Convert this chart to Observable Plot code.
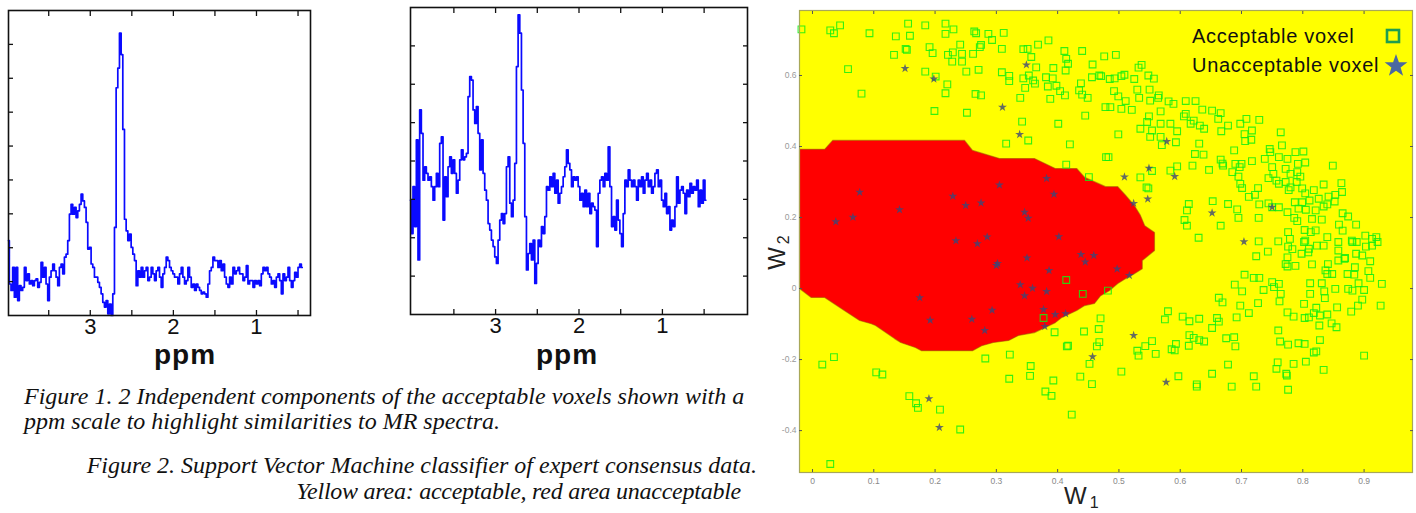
<!DOCTYPE html>
<html><head><meta charset="utf-8">
<script src="https://cdn.jsdelivr.net/npm/d3@7"></script>
<script src="https://cdn.jsdelivr.net/npm/@observablehq/plot@0.6"></script>
<style>
body{margin:0;width:1416px;height:513px;background:#fff;position:relative;overflow:hidden;font-family:"Liberation Sans",Arial,sans-serif}
.abs{position:absolute;white-space:nowrap}
.cap{font-family:"Liberation Serif","Times New Roman",serif;font-style:italic;font-size:24px;line-height:24px;color:#111}
.ppm{font-size:28px;line-height:12px;letter-spacing:1px;font-weight:bold;color:#111;transform:translateX(-50%)}
svg{overflow:visible}
</style></head><body>
<div id="c1" class="abs" style="left:0;top:0"></div>
<div id="c2" class="abs" style="left:400px;top:0"></div>
<div id="c3" class="abs" style="left:760px;top:0"></div>
<script>
// ---------- Spectrum data (ppm grid: start + step; intensities) ----------
const spec1Start = 3.984, spec1Step = 0.02008;
const spec1Values = [2.21,0.93,0.74,1.42,0.54,1.42,0.44,0.88,0.74,0.83,1.42,1.03,1.23,0.93,1.03,0.88,1.03,1.08,0.83,0.98,1.57,1.13,1.42,0.93,0.44,1.13,1.32,1.52,1.32,1.13,0.88,1.42,1.52,1.23,1.72,1.81,2.21,2.99,3.28,2.99,3.19,2.89,3.09,3.28,3.58,3.38,3.19,2.75,1.96,2.01,1.52,1.42,1.13,1.13,0.98,0.83,0.64,0.39,0.25,0.44,0.05,0.34,0.00,0.64,2.60,6.72,7.30,8.33,7.70,5.49,2.84,2.50,2.21,2.40,2.01,1.81,1.62,0.88,1.32,1.13,1.42,1.13,1.32,1.42,1.03,1.13,1.42,1.23,1.03,1.32,1.42,1.13,0.83,1.23,1.42,1.72,1.62,1.42,1.32,1.23,1.13,1.13,0.93,1.23,1.42,1.13,0.93,1.03,1.42,1.13,0.83,0.93,0.74,0.93,0.83,0.74,0.64,0.69,0.64,0.54,0.93,1.32,1.42,1.72,1.62,1.62,1.42,1.62,1.32,1.52,1.13,0.93,0.83,1.13,0.93,1.42,1.23,1.32,1.42,1.23,1.23,1.03,1.13,1.47,0.93,1.03,1.03,0.83,1.03,0.93,1.03,0.88,1.23,1.42,1.32,1.42,1.23,1.13,0.93,1.03,0.83,1.13,1.23,1.03,0.64,1.23,1.03,1.13,1.42,1.03,0.83,1.03,1.27,1.13,1.42,1.52,1.42];

const spec2Start = 4.02, spec2Step = 0.02;
const spec2Values = [2.98,2.11,3.33,2.29,4.55,1.42,5.33,4.72,3.50,3.85,3.68,3.50,3.59,3.33,2.98,3.33,3.68,3.33,4.46,4.63,2.46,3.59,3.07,3.85,4.11,3.68,4.03,3.68,3.16,3.50,4.03,4.29,4.03,4.11,4.20,5.68,6.20,6.11,5.33,4.98,5.42,4.72,3.77,4.55,3.68,3.24,2.98,2.37,2.20,1.94,1.77,1.50,1.33,1.94,2.46,2.63,2.37,2.63,3.85,4.11,2.90,2.55,2.98,3.94,6.46,7.81,7.33,5.85,4.46,2.55,1.16,1.59,1.85,1.42,1.94,0.81,1.33,1.94,1.77,2.29,2.11,2.55,3.33,3.24,3.59,3.33,3.68,3.16,3.50,2.90,3.16,3.33,3.59,3.85,4.29,3.94,3.77,3.33,3.59,3.50,3.59,3.33,2.98,3.16,2.81,3.24,2.81,3.16,2.63,2.90,2.81,2.72,1.77,3.16,3.50,3.59,3.33,3.68,3.50,4.37,3.33,2.29,2.55,2.20,2.98,2.46,2.11,1.77,2.63,3.50,3.33,3.77,3.50,3.33,3.50,3.33,2.98,3.50,3.33,3.59,3.16,3.50,3.68,3.33,3.50,3.16,3.33,3.68,3.77,3.33,3.50,2.98,2.81,3.16,2.63,2.81,2.20,2.46,2.29,2.81,3.59,2.90,3.24,3.33,3.16,2.63,3.24,3.07,3.42,3.16,3.33,3.24,3.50,2.81,3.24,2.90,3.50,2.98];

const ppmTicks = [3.5, 3, 2.5, 2, 1.5, 1, 0.5];
const ppmLabels = [3, 2, 1];
const yTicks1 = [1, 2, 3, 4, 5, 6, 7, 8];
const yTicks2 = [1, 2, 3, 4, 5, 6, 7];

// ---------- SVM classifier data ----------
const w1Ticks = [0, 0.1, 0.2, 0.3, 0.4, 0.5, 0.6, 0.7, 0.8, 0.9];
const w2Ticks = [-0.4, -0.2, 0, 0.2, 0.4, 0.6];

// boundary of the "unacceptable" (red) decision region, [W1, W2]
const redRegion = [[-0.0212,0.392],[0.020,0.392],[0.033,0.417],[0.248,0.417],[0.261,0.389],[0.305,0.366],[0.362,0.366],[0.396,0.338],[0.431,0.338],[0.444,0.313],[0.478,0.287],[0.498,0.287],[0.511,0.262],[0.525,0.234],[0.535,0.206],[0.542,0.177],[0.558,0.158],[0.558,0.107],[0.538,0.079],[0.538,0.056],[0.525,0.042],[0.511,0.028],[0.498,0.014],[0.484,-0.006],[0.470,-0.020],[0.460,-0.042],[0.444,-0.048],[0.431,-0.062],[0.406,-0.082],[0.396,-0.096],[0.362,-0.124],[0.336,-0.132],[0.320,-0.146],[0.295,-0.152],[0.276,-0.161],[0.261,-0.175],[0.178,-0.175],[0.168,-0.166],[0.144,-0.152],[0.134,-0.141],[0.103,-0.104],[0.096,-0.099],[0.077,-0.090],[0.052,-0.062],[0.020,-0.025],[-0.002,-0.025],[-0.0212,0.0]];

const acceptable = [[-0.018,0.730],[0.029,0.727],[0.035,0.719],[0.045,0.741],[0.093,0.719],[0.058,0.618],[0.080,0.549],[0.136,0.710],[0.156,0.746],[0.159,0.712],[0.184,0.741],[0.133,0.658],[0.152,0.675],[0.154,0.672],[0.184,0.611],[0.196,0.663],[0.191,0.680],[0.201,0.597],[0.217,0.746],[0.217,0.717],[0.230,0.730],[0.220,0.575],[0.217,0.550],[0.199,0.500],[0.221,0.658],[0.229,0.665],[0.228,0.639],[0.241,0.687],[0.244,0.661],[0.244,0.639],[0.251,0.611],[0.252,0.495],[0.264,0.724],[0.267,0.719],[0.262,0.661],[0.273,0.680],[0.275,0.686],[0.271,0.616],[0.266,0.548],[0.275,0.544],[0.287,0.717],[0.293,0.700],[0.312,0.720],[0.309,0.675],[0.309,0.609],[0.321,0.599],[0.321,0.584],[0.339,0.537],[0.342,0.470],[0.316,0.408],[0.352,0.417],[0.344,0.674],[0.351,0.675],[0.357,0.652],[0.365,0.623],[0.353,0.600],[0.344,0.592],[0.360,0.586],[0.363,0.577],[0.347,0.565],[0.368,0.687],[0.385,0.699],[0.381,0.595],[0.384,0.569],[0.392,0.592],[0.393,0.621],[0.388,0.534],[0.398,0.571],[0.404,0.556],[0.412,0.544],[0.411,0.669],[0.414,0.647],[0.417,0.633],[0.413,0.614],[0.401,0.464],[0.420,0.406],[0.414,0.349],[0.440,0.669],[0.438,0.578],[0.435,0.558],[0.440,0.546],[0.449,0.537],[0.445,0.487],[0.457,0.631],[0.456,0.595],[0.468,0.600],[0.476,0.654],[0.478,0.511],[0.479,0.370],[0.451,0.314],[0.471,0.598],
[0.414,0.024],[0.441,-0.015],[0.377,-0.083],[0.482,-0.006],[0.016,-0.214],[0.035,-0.193],[0.104,-0.236],[0.114,-0.242],[0.158,-0.303],[0.169,-0.323],[0.172,-0.336],[0.208,-0.341],[0.241,-0.397],[0.029,-0.494],[0.282,-0.197],[0.322,-0.186],[0.321,-0.254],[0.356,-0.218],[0.355,-0.246],[0.380,-0.290],[0.390,-0.302],[0.393,-0.259],[0.395,-0.123],[0.415,-0.163],[0.417,-0.161],[0.423,-0.355],[0.437,-0.248],[0.443,-0.121],[0.452,-0.212],[0.456,-0.269],[0.464,-0.163],[0.468,-0.151],[0.467,-0.114],[0.470,-0.084],
[0.495,0.658],[0.485,0.590],[0.493,0.592],[0.504,0.598],[0.509,0.602],[0.525,0.590],[0.532,0.622],[0.537,0.630],[0.548,0.600],[0.557,0.591],[0.550,0.560],[0.530,0.560],[0.492,0.556],[0.499,0.541],[0.511,0.528],[0.486,0.511],[0.504,0.506],[0.521,0.503],[0.533,0.537],[0.551,0.529],[0.564,0.537],[0.565,0.544],[0.581,0.527],[0.589,0.520],[0.609,0.528],[0.625,0.528],[0.636,0.504],[0.568,0.499],[0.549,0.485],[0.546,0.469],[0.535,0.450],[0.554,0.445],[0.568,0.464],[0.584,0.464],[0.595,0.443],[0.609,0.492],[0.606,0.485],[0.617,0.464],[0.622,0.473],[0.632,0.459],[0.639,0.450],[0.652,0.501],[0.666,0.494],[0.662,0.478],[0.667,0.443],[0.678,0.459],[0.698,0.464],[0.708,0.478],[0.729,0.475],[0.705,0.435],[0.717,0.445],[0.716,0.419],[0.706,0.415],[0.499,0.434],[0.551,0.427],[0.568,0.427],[0.570,0.404],[0.593,0.412],[0.631,0.408],[0.483,0.370],[0.624,0.379],[0.638,0.377],[0.666,0.363],[0.670,0.346],[0.688,0.389],[0.690,0.351],[0.700,0.351],[0.717,0.359],[0.685,0.328],[0.697,0.342],[0.620,0.346],[0.595,0.344],[0.584,0.332],[0.554,0.331],[0.535,0.313],[0.548,0.282],[0.647,0.334],[0.669,0.352],[0.695,0.315],[0.701,0.283],[0.698,0.295],[0.727,0.283],[0.722,0.264],[0.738,0.365],[0.746,0.393],[0.747,0.384],[0.764,0.440],[0.766,0.403],[0.761,0.370],[0.775,0.365],[0.788,0.384],[0.801,0.386],[0.792,0.351],[0.804,0.355],[0.772,0.337],[0.780,0.323],[0.791,0.328],[0.750,0.342],[0.744,0.311],[0.752,0.323],[0.757,0.304],[0.761,0.295],[0.772,0.300],[0.780,0.285],[0.790,0.300],[0.796,0.315],[0.777,0.277],[0.799,0.282],[0.804,0.268],[0.818,0.277],[0.834,0.293],[0.849,0.346],[0.863,0.297],[0.864,0.272],[0.853,0.264],[0.842,0.259],[0.826,0.253],[0.811,0.248],[0.799,0.243],[0.787,0.243],[0.793,0.225],[0.805,0.222],[0.821,0.220],[0.834,0.231],[0.840,0.237],[0.852,0.245],[0.865,0.212],[0.874,0.203],[0.831,0.194],[0.815,0.196],[0.791,0.190],[0.786,0.199],[0.775,0.215],[0.761,0.229],[0.750,0.229],[0.744,0.240],[0.729,0.237],[0.712,0.258],[0.728,0.199],[0.695,0.199],[0.678,0.238],[0.653,0.246],[0.614,0.238],[0.611,0.220],[0.607,0.193],[0.611,0.177],[0.630,0.143],[0.666,0.177],[0.693,0.223],[0.728,0.133],[0.776,0.159],[0.779,0.140],[0.803,0.165],[0.813,0.159],[0.821,0.164],[0.804,0.135],[0.840,0.145],[0.859,0.180],[0.887,0.180],[0.902,0.149],[0.913,0.140],[0.920,0.145],[0.880,0.135],[0.865,0.163],[0.545,0.285],
[0.743,0.104],[0.724,0.091],[0.705,0.039],[0.720,0.030],[0.729,0.030],[0.689,0.011],[0.701,-0.008],[0.736,-0.004],[0.750,0.018],[0.761,0.013],[0.753,0.004],[0.764,-0.015],[0.762,-0.036],[0.727,-0.041],[0.698,-0.048],[0.712,-0.069],[0.692,-0.081],[0.663,-0.026],[0.669,-0.039],[0.660,-0.083],[0.663,-0.093],[0.652,-0.111],[0.631,-0.085],[0.615,-0.092],[0.604,-0.079],[0.580,-0.064],[0.575,-0.087],[0.615,-0.131],[0.622,-0.139],[0.631,-0.145],[0.639,-0.149],[0.593,-0.156],[0.591,-0.174],[0.586,-0.171],[0.614,-0.161],[0.554,-0.148],[0.543,-0.162],[0.530,-0.175],[0.532,-0.189],[0.560,-0.184],[0.504,-0.234],[0.597,-0.247],[0.627,-0.270],[0.627,-0.276],[0.652,-0.240],[0.675,-0.140],[0.688,-0.137],[0.690,-0.163],[0.678,-0.214],[0.684,-0.276],[0.720,-0.247],[0.724,-0.276],[0.760,-0.118],[0.763,-0.149],[0.776,-0.158],[0.793,-0.154],[0.803,-0.156],[0.822,-0.177],[0.818,-0.180],[0.828,-0.145],[0.759,-0.208],[0.757,-0.226],[0.773,-0.240],[0.774,-0.245],[0.785,-0.212],[0.805,-0.206],[0.834,-0.229],[0.776,-0.285],[0.900,-0.189],[0.776,0.118],[0.783,0.111],[0.775,0.088],[0.775,0.062],[0.772,0.069],[0.788,0.064],[0.798,0.098],[0.809,0.102],[0.815,0.068],[0.812,0.015],[0.812,-0.015],[0.831,0.015],[0.835,-0.008],[0.836,-0.027],[0.853,-0.001],[0.837,0.051],[0.840,0.041],[0.848,0.041],[0.841,0.069],[0.858,0.079],[0.868,0.084],[0.873,0.041],[0.885,0.060],[0.884,0.039],[0.891,0.015],[0.900,-0.004],[0.881,-0.006],[0.874,-0.001],[0.897,-0.031],[0.890,-0.048],[0.879,-0.065],[0.910,0.030],[0.907,0.049],[0.910,0.077],[0.929,0.013],[0.927,-0.048],[0.856,-0.053],[0.855,-0.109],[0.828,-0.076],[0.840,-0.073],[0.847,-0.098],[0.822,-0.054],[0.818,-0.069],[0.810,-0.081],[0.803,-0.083],[0.785,-0.079],[0.775,-0.067],[0.802,-0.043],[0.827,-0.104],[0.760,0.133],[0.802,0.131],[0.810,0.112],[0.823,0.121],[0.834,0.121],[0.858,0.107],[0.869,0.086],[0.887,0.098],[0.897,0.093],[0.903,0.118],[0.913,0.121],[0.922,0.131],[0.881,0.131],[0.888,0.131],[0.858,0.131]];

const unacceptable = [[0.151,0.620],[0.198,0.590],[0.349,0.630],[0.310,0.511],[0.338,0.434],[0.077,0.271],[0.038,0.188],[0.066,0.201],[0.142,0.222],[0.229,0.260],[0.250,0.234],[0.275,0.241],[0.305,0.292],[0.346,0.215],[0.352,0.198],[0.382,0.310],[0.394,0.266],[0.402,0.146],[0.234,0.135],[0.269,0.126],[0.285,0.145],[0.302,0.071],[0.300,0.065],[0.350,0.086],[0.386,0.051],[0.438,0.096],[0.459,0.093],[0.445,0.075],[0.339,0.011],[0.359,0.001],[0.346,-0.020],[0.382,-0.008],[0.175,-0.026],[0.192,-0.089],[0.260,-0.086],[0.293,-0.061],[0.281,-0.118],[0.377,-0.059],[0.396,-0.073],[0.413,-0.071],[0.379,-0.107],[0.190,-0.310],[0.207,-0.391],[0.457,-0.192],[0.578,0.414],[0.549,0.339],[0.509,0.314],[0.591,0.316],[0.547,0.252],[0.524,0.240],[0.652,0.213],[0.750,0.229],[0.704,0.132],[0.497,0.055],[0.517,0.037],[0.524,-0.132],[0.577,-0.264]];

// ---------- build ----------
const rows1 = spec1Values.map((v, i) => ({ppm: spec1Start - i * spec1Step, v}));
const rows2 = spec2Values.map((v, i) => ({ppm: spec2Start - i * spec2Step, v}));
const blank = () => "";
const plain = d => String(d);
const specStyle = {background: "transparent", fontFamily: "Liberation Sans, Arial, sans-serif", color: "#111", overflow: "visible"};

function spectrum(rows, xDomain, yMax, yTicks, size, margins, rightTicks) {
  const marks = [
    Plot.line(rows, {x: "ppm", y: "v", stroke: "#0a0aff", strokeWidth: 1.7, curve: "step"}),
    Plot.frame({stroke: "#111", strokeWidth: 1.6}),
    Plot.axisX({anchor: "bottom", ticks: ppmTicks, tickSize: -5, tickFormat: blank, label: null, strokeWidth: 1.3}),
    Plot.axisX({anchor: "top", ticks: ppmTicks, tickSize: -5, tickFormat: blank, label: null, strokeWidth: 1.3}),
    Plot.axisX({anchor: "bottom", ticks: ppmLabels, tickSize: 0, tickPadding: 3, fontSize: 22, tickFormat: plain, label: null}),
    Plot.axisY({anchor: "left", ticks: yTicks, tickSize: -5, tickFormat: blank, label: null, strokeWidth: 1.3})
  ];
  if (rightTicks) marks.push(Plot.axisY({anchor: "right", ticks: yTicks, tickSize: -5, tickFormat: blank, label: null, strokeWidth: 1.3}));
  return Plot.plot({
    width: size[0], height: size[1],
    marginLeft: margins[0], marginTop: margins[1], marginRight: margins[2], marginBottom: margins[3],
    x: {domain: xDomain}, y: {domain: [0, yMax]},
    style: specStyle, marks
  });
}

document.getElementById("c1").append(spectrum(rows1, [3.984, 0.35], 9, yTicks1, [340, 380], [8, 10, 30, 65], false));
document.getElementById("c2").append(spectrum(rows2, [4.02, -0.02], 8, yTicks2, [360, 380], [10, 7, 13, 66], true));

const svm = Plot.plot({
  width: 656, height: 513,
  marginLeft: 39, marginTop: 10, marginRight: 4, marginBottom: 41,
  x: {domain: [-0.0212, 0.979]}, y: {domain: [-0.518, 0.783]},
  style: {background: "transparent", fontFamily: "Liberation Sans, Arial, sans-serif", overflow: "visible"},
  marks: [
    Plot.frame({fill: "#ffff00", stroke: null}),
    Plot.line(redRegion, {x: d => d[0], y: d => d[1], fill: "#ff0000", stroke: "#a04800", strokeWidth: 1.2, strokeOpacity: 0.55, curve: "linear-closed"}),
    Plot.dot(acceptable, {x: d => d[0], y: d => d[1], symbol: "square", r: 3.8, fill: "none", stroke: "#11ee11", strokeWidth: 1.1, strokeOpacity: 0.85}),
    Plot.dot(unacceptable, {x: d => d[0], y: d => d[1], symbol: "star", r: 2.8, fill: "#3c4778", fillOpacity: 0.8, stroke: "none"}),
    Plot.frame({stroke: "#a8a858", strokeWidth: 1.2}),
    Plot.axisX({anchor: "bottom", ticks: w1Ticks, tickSize: -3, tickFormat: blank, label: null, color: "#555"}),
    Plot.axisX({anchor: "top", ticks: w1Ticks, tickSize: -3, tickFormat: blank, label: null, color: "#555"}),
    Plot.axisY({anchor: "left", ticks: w2Ticks, tickSize: -3, tickFormat: blank, label: null, color: "#555"}),
    Plot.axisY({anchor: "right", ticks: w2Ticks, tickSize: -3, tickFormat: blank, label: null, color: "#555"}),
    Plot.axisX({anchor: "bottom", ticks: w1Ticks, tickSize: 0, tickPadding: 5, fontSize: 8.5, tickFormat: plain, label: null, color: "#888"}),
    Plot.axisY({anchor: "left", ticks: w2Ticks, tickSize: 0, tickPadding: 3, fontSize: 8.5, tickFormat: plain, label: null, color: "#999"})
  ]
});
document.getElementById("c3").append(svm);
</script>

<!-- spectrum axis titles -->
<div class="abs ppm" style="left:185px;top:349px">ppm</div>
<div class="abs ppm" style="left:567px;top:349px">ppm</div>

<!-- SVM axis titles -->
<div class="abs" style="left:1064px;top:484px;font-size:24px;line-height:24px;color:#222">W<span style="font-size:16px;position:relative;top:4px;margin-left:3px">1</span></div>
<div class="abs" style="left:756px;top:239px;width:44px;text-align:center;font-size:24px;line-height:24px;color:#222;transform:rotate(-90deg)">W<span style="font-size:16px;position:relative;top:4px;margin-left:3px">2</span></div>

<!-- legend -->
<div class="abs" style="left:1192px;top:24px;font-size:20px;line-height:24px;letter-spacing:0.7px;color:#111">Acceptable voxel</div>
<div class="abs" style="left:1192px;top:53px;font-size:20px;line-height:24px;letter-spacing:0.7px;color:#111">Unacceptable voxel</div>
<svg class="abs" style="left:1385px;top:28px" width="17" height="17"><rect x="2" y="2" width="12" height="12" fill="none" stroke="#1e9e50" stroke-width="2.6"/></svg>
<svg class="abs" style="left:1382px;top:52px" width="28" height="28"><polygon points="14,2 16.9,10.2 25.4,10.3 18.6,15.5 21.1,23.7 14,18.8 6.9,23.7 9.4,15.5 2.6,10.3 11.1,10.2" fill="#4a68a0"/></svg>

<!-- captions -->
<div class="abs cap" style="left:24px;top:384px">Figure 1. 2 Independent components of the acceptable voxels shown with a</div>
<div class="abs cap" style="left:24px;top:409px">ppm scale to highlight similarities to MR spectra.</div>
<div class="abs cap" style="right:659px;top:453px">Figure 2. Support Vector Machine classifier of expert consensus data.</div>
<div class="abs cap" style="right:675px;top:479px;letter-spacing:-0.25px">Yellow area: acceptable, red area unacceptable</div>
</body></html>
